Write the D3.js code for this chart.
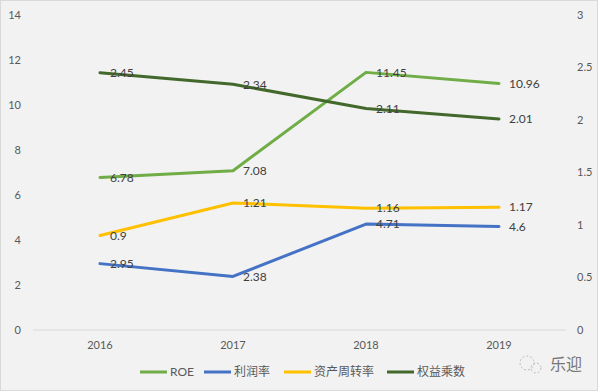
<!DOCTYPE html>
<html>
<head>
<meta charset="utf-8">
<script src="https://cdn.jsdelivr.net/npm/d3@7"></script>
<style>
  body { margin: 0; background: #fff; }
  text { font-family: Lato, "Noto Sans CJK SC", sans-serif; }
</style>
</head>
<body>
<svg width="600" height="392"></svg>
<script>
// chart data
const years = ["2016", "2017", "2018", "2019"];
const roe = [6.78, 7.08, 11.45, 10.96];
const profitRate = [2.95, 2.38, 4.71, 4.6];
const assetTurnover = [0.9, 1.21, 1.16, 1.17];
const equityMultiplier = [2.45, 2.34, 2.11, 2.01];
const leftTicks = [0, 2, 4, 6, 8, 10, 12, 14];
const rightTicks = [0, 0.5, 1, 1.5, 2, 2.5, 3];

const series = [
    { name: "ROE", values: roe, axis: "left", color: "#70ad47" },
    { name: "利润率", values: profitRate, axis: "left", color: "#4472c4" },
    { name: "资产周转率", values: assetTurnover, axis: "right", color: "#ffc000" },
    { name: "权益乘数", values: equityMultiplier, axis: "right", color: "#43682b" }
];

const svg = d3.select("svg");

// background + frame
svg.append("rect")
    .attr("x", 0.5).attr("y", 0.5)
    .attr("width", 597).attr("height", 390)
    .attr("fill", "#f2f2f2")
    .attr("stroke", "#d9d9d9");

const x = d3.scalePoint().domain(years).range([100, 499]);
const yLeft = d3.scaleLinear().domain([0, 14]).range([330, 15]);
const yRight = d3.scaleLinear().domain([0, 3]).range([330, 15]);

// baseline
svg.append("line")
    .attr("x1", 33).attr("x2", 566)
    .attr("y1", yLeft(0)).attr("y2", yLeft(0))
    .attr("stroke", "#d9d9d9");

// left axis labels
svg.append("g").selectAll("text")
    .data(leftTicks)
    .enter().append("text")
    .attr("x", 21)
    .attr("y", d => yLeft(d))
    .attr("dy", "0.35em")
    .attr("text-anchor", "end")
    .attr("font-size", 11)
    .attr("fill", "#595959")
    .text(d => d);

// right axis labels
svg.append("g").selectAll("text")
    .data(rightTicks)
    .enter().append("text")
    .attr("x", 577)
    .attr("y", d => yRight(d))
    .attr("dy", "0.35em")
    .attr("font-size", 11)
    .attr("fill", "#595959")
    .text(d => d);

// x labels
svg.append("g").selectAll("text")
    .data(years)
    .enter().append("text")
    .attr("x", d => x(d))
    .attr("y", 345)
    .attr("dy", "0.35em")
    .attr("text-anchor", "middle")
    .attr("font-size", 11)
    .attr("fill", "#595959")
    .text(d => d);

// lines and value labels
series.forEach(s => {
    const y = s.axis === "left" ? yLeft : yRight;
    const line = d3.line()
        .x((d, i) => x(years[i]))
        .y(d => y(d));

    svg.append("path")
        .datum(s.values)
        .attr("d", line)
        .attr("fill", "none")
        .attr("stroke", s.color)
        .attr("stroke-width", 3)
        .attr("stroke-linejoin", "round")
        .attr("stroke-linecap", "round");

    svg.append("g").selectAll("text")
        .data(s.values)
        .enter().append("text")
        .attr("x", (d, i) => x(years[i]) + 10)
        .attr("y", d => y(d))
        .attr("dy", "0.35em")
        .attr("font-size", 12)
        .attr("fill", "#404040")
        .text(d => d);
});

// legend
const legendX = [140, 204, 284, 387];
const legend = svg.append("g").selectAll("g")
    .data(series)
    .enter().append("g")
    .attr("transform", (d, i) => `translate(${legendX[i]},372)`);

legend.append("line")
    .attr("x1", 0).attr("x2", 27)
    .attr("stroke", d => d.color)
    .attr("stroke-width", 3);

legend.append("text")
    .attr("x", 30)
    .attr("dy", "0.35em")
    .attr("font-size", 12)
    .attr("fill", "#595959")
    .text(d => d.name);

// watermark
const wm = svg.append("g").attr("transform", "translate(527,363)");
wm.append("circle").attr("cx", 0).attr("cy", 0).attr("r", 7)
    .attr("fill", "none").attr("stroke", "#bbb").attr("stroke-dasharray", "2,2");
wm.append("circle").attr("cx", 9).attr("cy", 5).attr("r", 5)
    .attr("fill", "none").attr("stroke", "#bbb").attr("stroke-dasharray", "2,2");
wm.append("text")
    .attr("x", 23).attr("y", 1)
    .attr("dy", "0.35em")
    .attr("font-size", 16)
    .attr("fill", "#777")
    .text("乐迎");
</script>
</body>
</html>
